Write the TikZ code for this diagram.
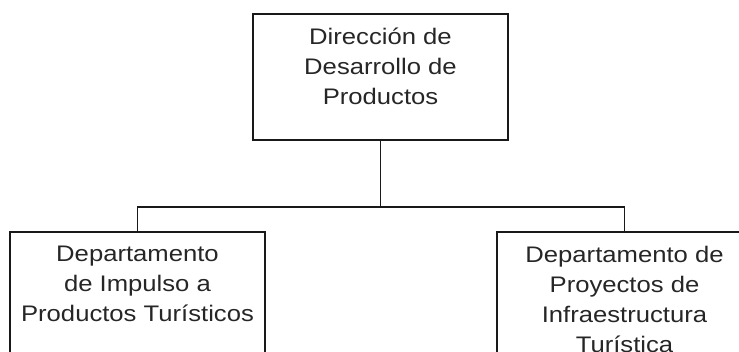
\documentclass[tikz,border=0pt]{standalone}
\usepackage{fontspec}
\setmainfont{Liberation Sans}[FakeStretch=1.14]
\usetikzlibrary{positioning}

\begin{document}
\begin{tikzpicture}[node distance=90pt, every node/.style={align=center, font=\fontsize{22.5pt}{30pt}\selectfont}]
    % estilos
    \tikzstyle{unit} = [rectangle, draw=black!90, line width=2pt, minimum width=255pt, minimum height=126pt, inner sep=0pt]
    \tikzstyle{unittext} = [anchor=north, inner sep=0pt, text=black!85]
    \tikzstyle{link} = [line width=1.8pt, draw=black!90]

    \path[use as bounding box, clip] (0,0) rectangle (739pt,-351pt);

    % cajas
    \node[unit] (direccion) at (380.5pt,-77pt) {};
    \node[unit, below=90pt of direccion, xshift=-243pt] (impulso) {};
    \node[unit, below=90pt of direccion, xshift=244pt] (proyectos) {};

    % textos
    \node[unittext, below=15pt of direccion.north] (tdireccion) {Dirección de\\Desarrollo de\\Productos};
    \node[unittext, below=15pt of impulso.north] (timpulso) {Departamento\\de Impulso a\\Productos Turísticos};
    \node[unittext, below=15pt of proyectos.north] (tproyectos) {Departamento de\\Proyectos de\\Infraestructura\\Turística};

    % conexiones
    \draw[link] (direccion.south) -- ++(0,-66pt) -| (impulso.north);
    \draw[link] (direccion.south) -- ++(0,-66pt) -| (proyectos.north);
\end{tikzpicture}
\end{document}
